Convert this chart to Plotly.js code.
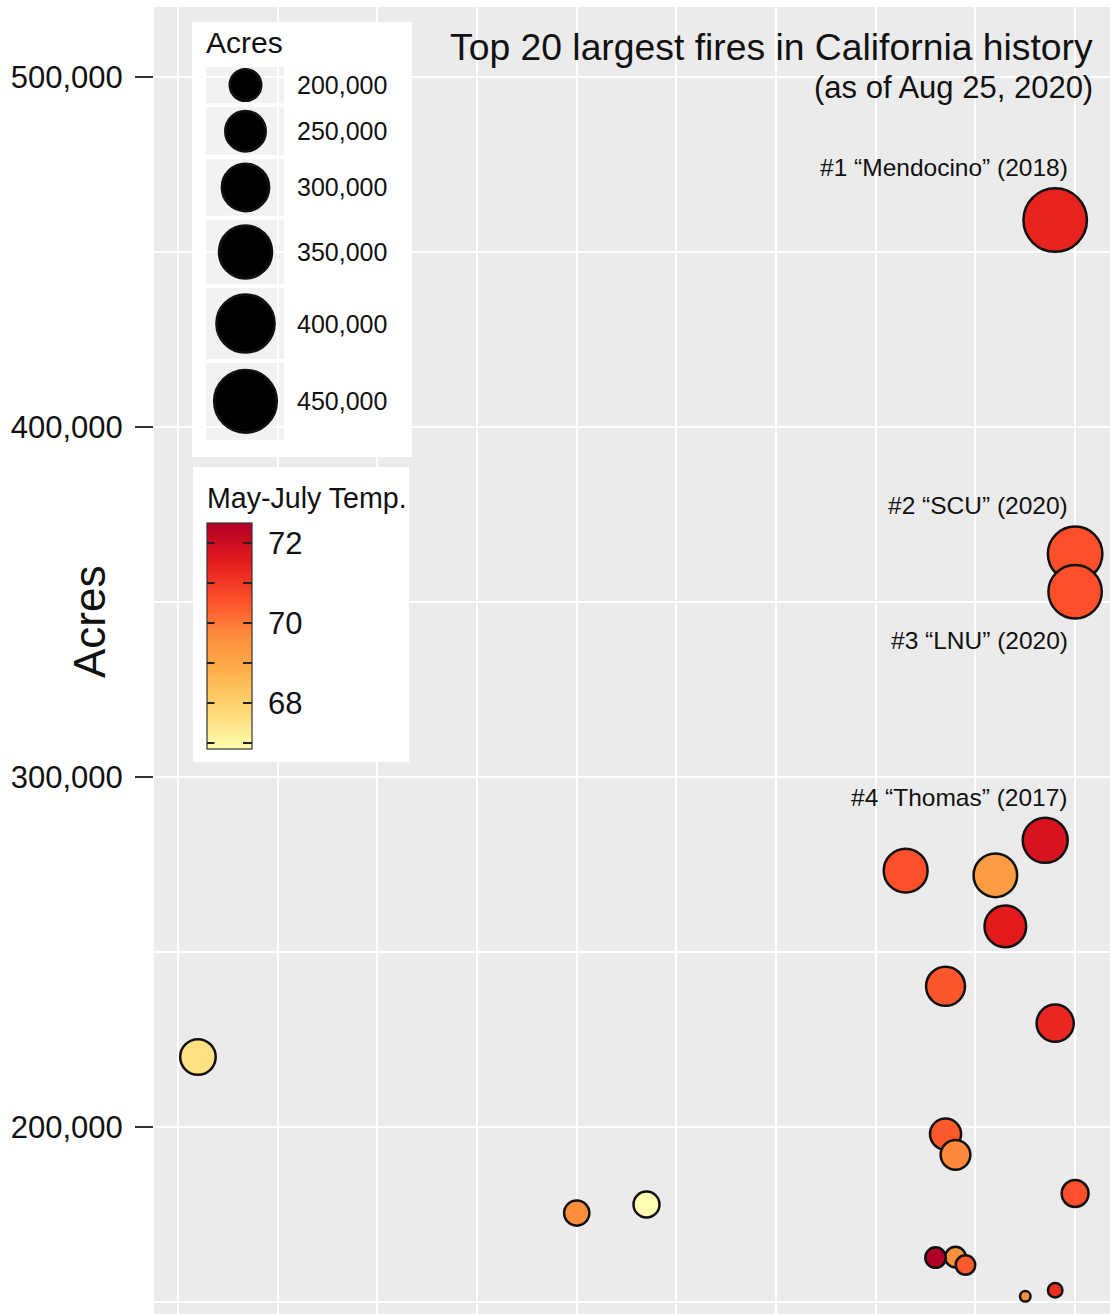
<!DOCTYPE html>
<html><head><meta charset="utf-8">
<script src="https://cdn.plot.ly/plotly-3.0.1.min.js"></script>
<style>html,body{margin:0;padding:0;background:#fff}</style>
</head><body><div id="chart" style="width:1110px;height:1314px"></div>
<script>
// ---------- data ----------
const fireNames = ['Mendocino','SCU','LNU','Thomas','Cedar','Rush','Rim','Zaca','Carr','Matilija',
  'Witch','Klamath Theater','August Complex','Marble Cone','Laguna','Basin','Day','Station','Camp','Rough'];
const fireYears = [2018,2020,2020,2017,2003,2012,2013,2007,2018,1932,
  2007,2008,2020,1977,1970,2008,2006,2009,2018,2015];
const fireAcres = [459123,363772,352913,281893,273246,271911,257314,240207,229651,220000,
  197990,192038,181000,177866,175425,162818,162702,160557,153336,151623];
const fireTemps = [71.4,70.6,70.6,71.8,70.6,69.3,71.55,70.5,71.35,67.6,
  70.45,69.75,70.6,66.85,69.65,69.6,72.5,70.45,71.2,69.7];

const sizeLegendValues = [200000,250000,300000,350000,400000,450000];
const sizeLegendLabels = ['200,000','250,000','300,000','350,000','400,000','450,000'];
const tempTickVals = [67,68,69,70,71,72];
const tempTickText = ['','68','','70','','72'];
const labelFires = ['Mendocino','SCU','LNU','Thomas'];
const labelTexts = ['#1 \u201cMendocino\u201d (2018)','#2 \u201cSCU\u201d (2020)','#3 \u201cLNU\u201d (2020)','#4 \u201cThomas\u201d (2017)'];
const titleText = 'Top 20 largest fires in California history';
const subtitleText = '(as of Aug 25, 2020)';

// ---------- styling / layout ----------
const FONT = 'Liberation Sans, Arial, Helvetica, sans-serif';
const W = 1110, H = 1314;
const ML = 154, MT = 7;
const PW = W - ML, PH = H - MT;
const palette = ['#FFFFB2','#FED976','#FEB24C','#FD8D3C','#FC4E2A','#E31A1C','#B10026'];
const colorscale = palette.map((c,i)=>[i/(palette.length-1), c]);
const LW = 2.5;
const vmin = Math.min(...fireAcres), vmax = Math.max(...fireAcres);
const diam = v => 13 + 53*Math.sqrt(Math.max(0,(v - vmin)/(vmax - vmin)));
const tmin = Math.min(...fireTemps), tmax = Math.max(...fireTemps);
const xp = p => (p - ML)/PW;        // pixel -> paper x
const yp = p => (H - p)/PH;         // pixel -> paper y

// size legend geometry
const keyTop0 = 67, keyGap = 4, keyX0 = 206, keyX1 = 284;
let kt = keyTop0;
const keyBoxes = sizeLegendValues.map(v => {
  const d = diam(v); const h = 1.3*d - 8;
  const box = {y0: kt, y1: kt + h, c: kt + h/2, d: d};
  kt += h + keyGap; return box;
});

// colorbar geometry
const cbTop = 523, cbLen = 226, cbLeft = 207, cbThick = 45;
const tickPix = v => cbTop + (tmax - v)/(tmax - tmin)*cbLen;

const shapes = [
  {type:'rect', xref:'x2', yref:'y2', x0:435, x1:W+10, y0:MT, y1:140, fillcolor:'#EBEBEB', line:{width:0}, layer:'below'},
  {type:'rect', xref:'x2', yref:'y2', x0:192, x1:412, y0:22, y1:457, fillcolor:'#FFFFFF', line:{width:0}, layer:'below'},
  {type:'rect', xref:'x2', yref:'y2', x0:193, x1:409, y0:467, y1:762, fillcolor:'#FFFFFF', line:{width:0}, layer:'below'}
];
keyBoxes.forEach(b => shapes.push({type:'rect', xref:'x2', yref:'y2', x0:keyX0, x1:keyX1, y0:b.y0, y1:b.y1,
  fillcolor:'#F2F2F2', line:{width:0}, layer:'below'}));

const annotations = [
  {xref:'x2', yref:'y2', x:1095, y:47, text:titleText, showarrow:false, xanchor:'right', yanchor:'middle',
   font:{family:FONT, size:37.3, color:'#111'}},
  {xref:'x2', yref:'y2', x:1095, y:87, text:subtitleText, showarrow:false, xanchor:'right', yanchor:'middle',
   font:{family:FONT, size:31, color:'#111'}},
  {xref:'paper', yref:'paper', x:xp(90), y:yp(622), text:'Acres', textangle:-90, showarrow:false,
   xanchor:'center', yanchor:'middle', font:{family:FONT, size:44, color:'#111'}},
  {xref:'x2', yref:'y2', x:204, y:42, text:'Acres', showarrow:false, xanchor:'left', yanchor:'middle',
   font:{family:FONT, size:30, color:'#111'}},
  {xref:'x2', yref:'y2', x:205, y:498, text:'May-July Temp.', showarrow:false, xanchor:'left', yanchor:'middle',
   font:{family:FONT, size:28.6, color:'#111'}}
];
keyBoxes.forEach((b,i) => annotations.push({xref:'x2', yref:'y2', x:295, y:b.c, text:sizeLegendLabels[i],
  showarrow:false, xanchor:'left', yanchor:'middle', font:{family:FONT, size:25, color:'#111'}}));
const labelShift = {Mendocino:53, SCU:48, LNU:-49, Thomas:43};
labelFires.forEach((n,i) => {
  const k = fireNames.indexOf(n);
  annotations.push({xref:'x', yref:'y', x:2019.5, y:fireAcres[k], yshift:labelShift[n], text:labelTexts[i],
    showarrow:false, xanchor:'right', yanchor:'middle', font:{family:FONT, size:24.5, color:'#111'}});
});
// left-side colorbar ticks (ggplot draws ticks on both sides)
tempTickVals.forEach(v => annotations.push({xref:'paper', yref:'paper', x:xp(cbLeft), y:yp(tickPix(v)),
  text:'', showarrow:true, arrowhead:0, arrowwidth:2, arrowcolor:'#222', axref:'pixel', ayref:'pixel',
  ax:9, ay:0, standoff:0, startstandoff:0}));

// order: largest first so smaller drawn on top
const order = fireAcres.map((v,i)=>i).sort((a,b)=>fireAcres[b]-fireAcres[a]);

const mainTrace = {
  type:'scatter', mode:'markers', xaxis:'x', yaxis:'y',
  x: order.map(i=>fireYears[i]), y: order.map(i=>fireAcres[i]),
  text: order.map(i=>fireNames[i]),
  marker:{
    size: order.map(i=>diam(fireAcres[i]) - LW),
    color: order.map(i=>fireTemps[i]),
    colorscale: colorscale, cmin: tmin, cmax: tmax, opacity:1,
    line:{color:'#111', width:LW},
    showscale:true,
    colorbar:{
      x: xp(cbLeft), xanchor:'left', xref:'paper', xpad:0,
      y: yp(cbTop), yanchor:'top', yref:'paper', ypad:0,
      len: cbLen, lenmode:'pixels', thickness: cbThick, thicknessmode:'pixels',
      outlinewidth:1.2, outlinecolor:'#333', borderwidth:0, bgcolor:'rgba(0,0,0,0)',
      tickmode:'array', tickvals: tempTickVals, ticktext: tempTickText.map(t => t ? '\u00A0' + t : t),
      ticks:'inside', ticklen:9, tickwidth:2, tickcolor:'#222',
      tickfont:{family:FONT, size:31, color:'#111'}
    }
  },
  hoverinfo:'text', showlegend:false
};

const legendTrace = {
  type:'scatter', mode:'markers', xaxis:'x2', yaxis:'y2',
  x: keyBoxes.map(()=> (keyX0+keyX1)/2 + 0.5), y: keyBoxes.map(b=>b.c),
  marker:{size: keyBoxes.map(b=>b.d - LW), color:'#000000', opacity:1, line:{color:'#111', width:LW}},
  hoverinfo:'skip', showlegend:false
};

const layout = {
  width: W, height: H,
  margin:{l:ML, r:0, t:MT, b:0, pad:0},
  paper_bgcolor:'#FFFFFF', plot_bgcolor:'#EBEBEB',
  font:{family:FONT, color:'#111'},
  showlegend:false,
  xaxis:{range:[1927.59, 2023.5], dtick:10, tick0:1930, showticklabels:false, ticks:'',
    showgrid:true, gridcolor:'#FFFFFF', gridwidth:2, zeroline:false, showline:false, fixedrange:true},
  yaxis:{range:[146571, 520000], tickmode:'linear', tick0:0, dtick:100000, tickformat:',',
    ticks:'outside', ticklen:18, tickwidth:2.5, tickcolor:'#333', ticklabelstandoff:6,
    tickfont:{family:FONT, size:31, color:'#111'},
    showgrid:true, gridcolor:'#FFFFFF', gridwidth:2, zeroline:false, showline:false, fixedrange:true,
    minor:{dtick:50000, tick0:0, showgrid:true, gridcolor:'#FFFFFF', gridwidth:2, ticks:''}},
  xaxis2:{overlaying:'x', range:[ML, W], visible:false, showgrid:false, zeroline:false, fixedrange:true},
  yaxis2:{overlaying:'y', range:[H, MT], visible:false, showgrid:false, zeroline:false, fixedrange:true},
  shapes: shapes,
  annotations: annotations
};

Plotly.newPlot('chart', [mainTrace, legendTrace], layout, {displayModeBar:false, staticPlot:true});
</script>
</body></html>
